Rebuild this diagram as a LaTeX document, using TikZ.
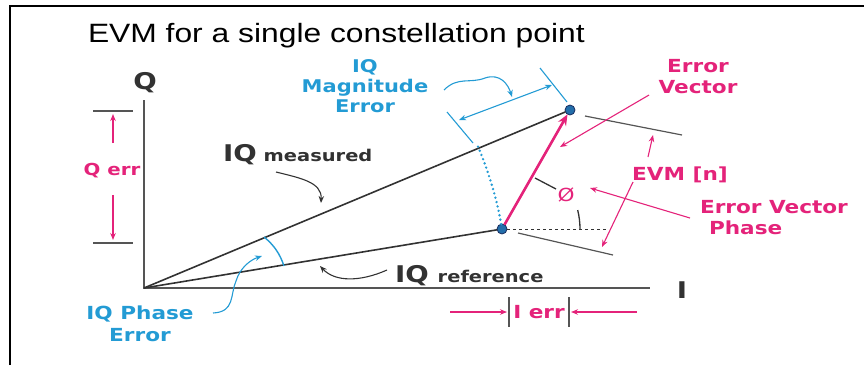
\documentclass[tikz,border=0pt]{standalone}
\usepackage{fontspec}
\setmainfont{Liberation Sans}
\newfontfamily\lab{DejaVu Sans}[FakeStretch=1.2]
\newfontfamily\ttl{Liberation Sans}[FakeStretch=1.2]
\usetikzlibrary{arrows.meta}
\definecolor{pk}{RGB}{228,35,122}
\definecolor{bl}{RGB}{35,155,212}
\definecolor{dg}{RGB}{50,50,50}
\definecolor{ax}{RGB}{85,85,85}
\definecolor{dotf}{RGB}{35,110,170}
\definecolor{doto}{RGB}{25,45,95}
\begin{document}
\begin{tikzpicture}[x=1pt,y=-1pt,
  every node/.style={inner sep=0pt, outer sep=0pt},
  lbl/.style={font=\lab\bfseries\fontsize{18}{21}\selectfont, align=center},
  pklbl/.style={lbl, text=pk},
  bllbl/.style={lbl, text=bl},
  dglbl/.style={font=\lab\bfseries, text=dg},
  pkarrow/.style={pk, line width=1.1pt, -{Stealth[length=7pt,width=5.5pt]}},
  blarrow/.style={bl, line width=1.1pt, -{Stealth[length=7pt,width=5.5pt]}},
  dgarrow/.style={dg, line width=1.1pt, -{Stealth[length=7pt,width=5.5pt]}},
  tick/.style={ax, line width=1.2pt},
  bltick/.style={bl, line width=1.1pt},
  pt/.style={circle, minimum size=10pt, fill=dotf, draw=doto, line width=0.8pt}
]
\useasboundingbox (0,0) rectangle (864,365);
% frame
\draw[line width=2.2pt] (10,365) -- (10,6) -- (864,6);
% title
\node[font=\ttl\fontsize{26.5}{30}\selectfont, anchor=base west] (title) at (88,42) {EVM for a single constellation point};

% axes
\coordinate (O) at (144,288);
\coordinate (Qtop) at (144,100);
\coordinate (Iend) at (650,288);
\draw[ax, line width=1.6pt] (Qtop) -- (O) -- (Iend);
\node[dglbl, font=\lab\bfseries\fontsize{23}{26}\selectfont] (Ql) at (145,83) {Q};
\node[dglbl, font=\lab\bfseries\fontsize{23}{26}\selectfont] (Il) at (682,290) {I};

% points
\node[pt] (M) at (570,110) {};
\node[pt] (R) at (502,229) {};

% vectors
\draw[dg, line width=1.6pt] (O) -- (M);
\draw[dg, line width=1.6pt] (O) -- (R);
\draw[pk, line width=2.6pt, -{Stealth[length=11pt,width=9pt]}] (R) -- (M);

% Q err
\draw[tick] (93,111) -- (133,111);
\draw[tick] (93,243) -- (133,243);
\node[pklbl, font=\lab\bfseries\fontsize{16.5}{19}\selectfont] (qerr) at (112,171) {Q err};
\coordinate (qa0) at (113,143); \coordinate (qa1) at (113,114);
\coordinate (qb0) at (113,195); \coordinate (qb1) at (113,240);
\draw[pkarrow] (qa0) -- (qa1);
\draw[pkarrow] (qb0) -- (qb1);

% I err
\draw[tick] (509,297) -- (509,327);
\draw[tick] (569,297) -- (569,327);
\node[pklbl] (ierr) at (539,312) {I err};
\coordinate (ia0) at (450,312); \coordinate (ia1) at (507,312);
\coordinate (ib0) at (637,312); \coordinate (ib1) at (571,312);
\draw[pkarrow] (ia0) -- (ia1);
\draw[pkarrow] (ib0) -- (ib1);

% EVM ticks
\draw[tick] (585,116) -- (682,135);
\draw[tick] (518,233) -- (613,255);
\draw[dg, line width=1pt, dash pattern=on 3pt off 3pt] (R) -- (607,229);

% EVM [n]
\node[pklbl] (evm) at (680,175) {EVM [n]};
\coordinate (ea0) at (648,157); \coordinate (ea1) at (653,135);
\coordinate (eb0) at (633,182); \coordinate (eb1) at (602,247);
\draw[pkarrow] (ea0) -- (ea1);
\draw[pkarrow] (eb0) -- (eb1);

% phase angle
\node[text=pk, font=\lab\fontsize{18}{20}\selectfont] (phi) at (566,195) {Ø};
\draw[dg, line width=1.3pt] (535,178) -- (556,189);
\draw[dg, line width=1.3pt] (580,229) .. controls (580,222.6) and (579.2,216.3) .. (577.7,210.1);

% Error Vector label
\node[pklbl] (ev) at (698,77) {Error\\Vector};
\coordinate (evp0) at (649,95); \coordinate (evp1) at (560,147);
\draw[pkarrow] (evp0) -- (evp1);

% Error Vector Phase
\node[pklbl, align=left, anchor=base west] (evph) at (700,234) {Error Vector\\\hspace*{9pt}Phase};
\coordinate (ph0) at (690,218); \coordinate (ph1) at (590,188);
\draw[pkarrow] (ph0) -- (ph1);

% IQ magnitude error
\draw[bl, line width=2.6pt, line cap=round, dash pattern=on 0pt off 4.5pt] (R) .. controls (497.3,201.2) and (489.3,173.2) .. (477.9,146.3);
\draw[bltick] (447,112) -- (473,143);
\draw[bltick] (540,68) -- (567,102);
\coordinate (ma0) at (459,120); \coordinate (ma1) at (552,85);
\draw[bl, line width=1.1pt, {Stealth[length=7pt,width=5.5pt]}-{Stealth[length=7pt,width=5.5pt]}] (ma0) -- (ma1);
\node[bllbl, font=\lab\bfseries\fontsize{17.5}{20}\selectfont] (iqm) at (365,86) {IQ\\Magnitude\\Error};
\coordinate (mp0) at (444,90); \coordinate (mp1) at (512,97);
\draw[blarrow] (mp0) .. controls (458,76) and (470,84) .. (485,78) .. controls (500,73) and (508,84) .. (mp1);

% IQ phase error
\draw[bl, line width=1.4pt] (264,237) .. controls (274,245) and (280,254) .. (284,266);
\node[bllbl, font=\lab\bfseries\fontsize{18}{22}\selectfont] (iqp) at (140,324) {IQ Phase\\Error};
\coordinate (pp0) at (213,313); \coordinate (pp1) at (262,256);
\draw[blarrow] (pp0) .. controls (235,312) and (230,295) .. (236,281) .. controls (240,268) and (250,260) .. (pp1);

% IQ measured
\node[dglbl, anchor=base west] (iqmeas) at (223,161) {{\fontsize{23}{26}\selectfont IQ}\hspace{7pt}{\fontsize{16.2}{18}\selectfont measured}};
\coordinate (ms0) at (276,172); \coordinate (ms1) at (321,203);
\draw[dgarrow] (ms0) .. controls (300,178) and (322,182) .. (ms1);

% IQ reference
\node[dglbl, anchor=base west] (iqref) at (395,282) {{\fontsize{23}{26}\selectfont IQ}\hspace{9pt}{\fontsize{16.2}{18}\selectfont reference}};
\coordinate (rf0) at (387,270); \coordinate (rf1) at (320,266);
\draw[dgarrow] (rf0) .. controls (360,282) and (335,282) .. (rf1);
\end{tikzpicture}
\end{document}
